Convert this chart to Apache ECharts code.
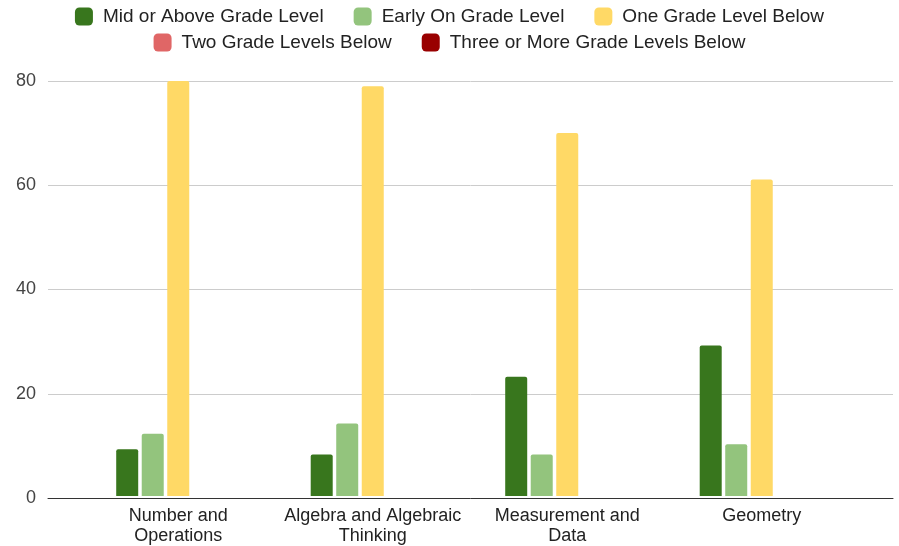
<!DOCTYPE html>
<html>
<head>
<meta charset="utf-8">
<script src="https://cdn.jsdelivr.net/npm/echarts@6/dist/echarts.min.js"></script>
<style>html,body{margin:0;padding:0;background:#fff;}#c{width:899px;height:546px;}</style>
</head>
<body>
<div id="c"></div>
<script>
const categories = ['Number and\nOperations', 'Algebra and Algebraic\nThinking', 'Measurement and\nData', 'Geometry'];
const seriesNames = ['Mid or Above Grade Level', 'Early On Grade Level', 'One Grade Level Below', 'Two Grade Levels Below', 'Three or More Grade Levels Below'];
const midOrAbove = [9, 8, 23, 29];
const earlyOn = [12, 14, 8, 10];
const oneBelow = [80, 79, 70, 61];
const twoBelow = [0, 0, 0, 0];
const threeOrMore = [0, 0, 0, 0];
const colors = ['#38761d', '#93c47d', '#ffd966', '#e06666', '#990000'];
const yTicks = [0, 20, 40, 60, 80];

const values = [midOrAbove, earlyOn, oneBelow, twoBelow, threeOrMore];
const font = '"Liberation Sans", Arial, sans-serif';

const chart = echarts.init(document.getElementById('c'), null, {renderer: 'canvas'});
const legendText = {fontSize: 19, color: '#222', fontFamily: font, padding: [0, 0, 0, 5]};
chart.setOption({
  animation: false,
  color: colors,
  legend: [
    {data: seriesNames.slice(0, 3), top: 2, left: 'center', itemWidth: 18, itemHeight: 18, itemGap: 30, icon: 'roundRect', textStyle: legendText},
    {data: seriesNames.slice(3), top: 28, left: 'center', itemWidth: 18, itemHeight: 18, itemGap: 30, icon: 'roundRect', textStyle: legendText}
  ],
  grid: [
    {left: 48, right: 6, top: 81, bottom: 48},
    {left: 81, right: 40, top: 81, bottom: 48}
  ],
  xAxis: [
    {type: 'category', gridIndex: 0, data: [''], axisLine: {lineStyle: {color: '#333', width: 1}}, axisTick: {show: false}, axisLabel: {show: false}},
    {type: 'category', gridIndex: 1, data: categories, axisLine: {show: false}, axisTick: {show: false},
     axisLabel: {fontSize: 18, color: '#222', fontFamily: font, lineHeight: 20, margin: 10, interval: 0}}
  ],
  yAxis: [
    {type: 'value', gridIndex: 0, min: yTicks[0], max: yTicks[yTicks.length - 1], interval: 20,
     axisLine: {show: false}, axisTick: {show: false},
     axisLabel: {fontSize: 18, color: '#444', fontFamily: font, margin: 12},
     splitLine: {lineStyle: {color: '#cccccc', width: 1}}},
    {type: 'value', gridIndex: 1, min: yTicks[0], max: yTicks[yTicks.length - 1], interval: 20, show: false, splitLine: {show: false}}
  ],
  series: seriesNames.map((name, i) => ({
    name: name,
    type: 'bar',
    xAxisIndex: 1,
    yAxisIndex: 1,
    data: values[i],
    barWidth: 22,
    barGap: '16%',
    itemStyle: {color: colors[i], borderRadius: [2, 2, 0, 0]}
  }))
});
</script>
</body>
</html>
